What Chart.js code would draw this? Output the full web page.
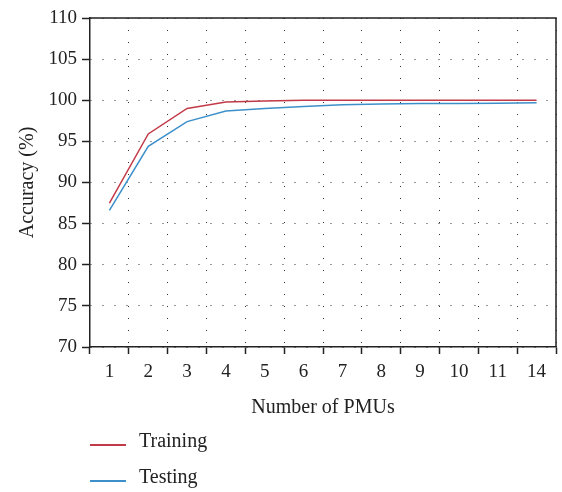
<!DOCTYPE html>
<html>
<head>
<meta charset="utf-8">
<script src="https://cdn.jsdelivr.net/npm/chart.js@4/dist/chart.umd.min.js"></script>
<style>
  html, body { margin: 0; padding: 0; background: #fff; }
  #wrap { position: relative; width: 562px; height: 492px; }
  #c { position: absolute; left: 0; top: 0; }
  #legend { position: absolute; left: 90px; top: 425px; font-family: "Liberation Serif", "DejaVu Serif", serif; font-size: 20px; color: #222; }
  .item { position: relative; height: 36px; }
  .swatch { position: absolute; left: 0; top: 19px; width: 36px; height: 1.6px; }
  .txt { position: absolute; left: 49px; top: 3px; line-height: 24px; }
</style>
</head>
<body>
<div id="wrap">
  <canvas id="c" width="562" height="492"></canvas>
  <div id="legend"></div>
</div>
<script>
const categories = ["1", "2", "3", "4", "5", "6", "7", "8", "9", "10", "11", "14"];
const training = [87.5, 95.9, 99.0, 99.8, 99.9, 100.0, 100.0, 100.0, 100.0, 100.0, 100.0, 100.0];
const testing = [86.6, 94.4, 97.4, 98.7, 99.0, 99.25, 99.45, 99.55, 99.6, 99.6, 99.65, 99.7];
const seriesNames = ["Training", "Testing"];
const seriesColors = ["#c23a48", "#3d8fc9"];
const yMin = 70, yMax = 110, yStep = 5;

const fontFam = '"Liberation Serif", "DejaVu Serif", serif';

const borderPlugin = {
  id: 'frame',
  afterDraw(chart) {
    const { ctx, chartArea: a } = chart;
    ctx.save();
    ctx.strokeStyle = '#222';
    ctx.lineWidth = 1.5;
    ctx.beginPath();
    ctx.moveTo(a.left, a.top);
    ctx.lineTo(a.right, a.top);
    ctx.lineTo(a.right, a.bottom);
    ctx.stroke();
    ctx.restore();
  }
};

const chart = new Chart(document.getElementById('c'), {
  type: 'line',
  data: {
    labels: categories,
    datasets: [
      { label: seriesNames[0], data: training, borderColor: seriesColors[0], backgroundColor: seriesColors[0], borderWidth: 1.5, pointRadius: 0, tension: 0, fill: false },
      { label: seriesNames[1], data: testing, borderColor: seriesColors[1], backgroundColor: seriesColors[1], borderWidth: 1.5, pointRadius: 0, tension: 0, fill: false }
    ]
  },
  options: {
    responsive: false,
    animation: false,
    layout: { padding: { left: 12, right: 6, top: 18, bottom: 72 } },
    plugins: { legend: { display: false }, tooltip: { enabled: false } },
    scales: {
      x: {
        type: 'category',
        offset: true,
        afterFit(s) { s.height = 73; },
        grid: {
          offset: true,
          color: '#333',
          lineWidth: 1,
          drawTicks: true,
          tickLength: 7,
          tickColor: '#222',
          tickBorderDash: [],
          tickWidth: 1.5
        },
        border: { display: true, color: '#222', width: 1.5, dash: [1, 11] },
        ticks: { color: '#222', font: { family: fontFam, size: 19 }, padding: 7, maxRotation: 0, autoSkip: false },
        title: { display: true, text: 'Number of PMUs', color: '#222', font: { family: fontFam, size: 20 }, padding: { top: 2, bottom: 0 } }
      },
      y: {
        min: yMin, max: yMax,
        afterFit(s) { s.width = 78; },
        grid: {
          color: '#333',
          lineWidth: 1,
          drawTicks: true,
          tickLength: 8,
          tickColor: '#222',
          tickBorderDash: [],
          tickWidth: 1.5
        },
        border: { display: true, color: '#222', width: 1.5, dash: [1, 11] },
        ticks: { stepSize: yStep, color: '#222', font: { family: fontFam, size: 19 }, padding: 5 },
        title: { display: true, text: 'Accuracy (%)', color: '#222', font: { family: fontFam, size: 20 }, padding: { top: 4, bottom: 2 } }
      }
    }
  },
  plugins: [borderPlugin]
});

// HTML legend built from the chart datasets
const leg = document.getElementById('legend');
chart.data.datasets.forEach((ds, i) => {
  const it = document.createElement('div');
  it.className = 'item';
  const sw = document.createElement('div');
  sw.className = 'swatch';
  sw.style.background = seriesColors[i];
  const tx = document.createElement('div');
  tx.className = 'txt';
  tx.textContent = ds.label;
  it.appendChild(sw); it.appendChild(tx);
  leg.appendChild(it);
});
</script>
</body>
</html>
